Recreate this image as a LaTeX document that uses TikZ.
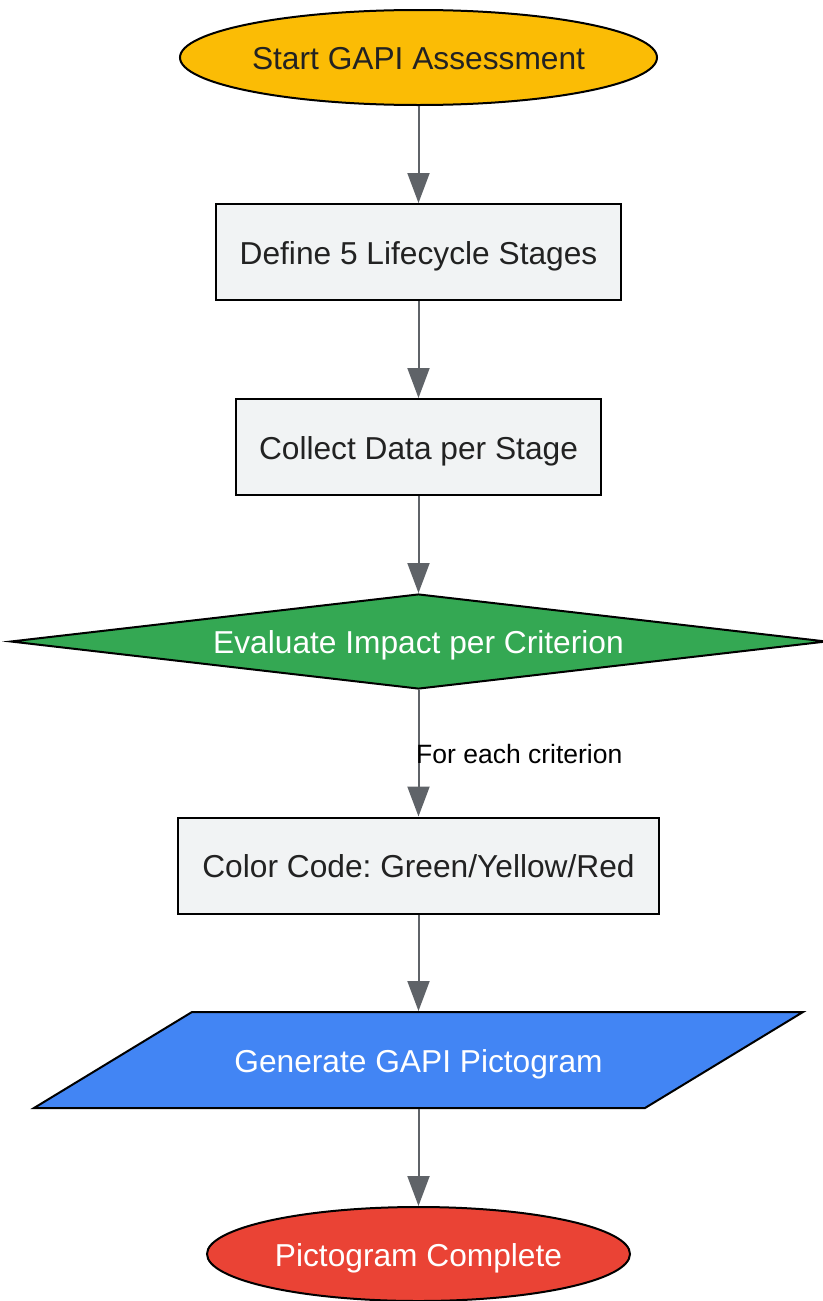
\documentclass[tikz,border=0pt]{standalone}
\usepackage{fontspec}
\setmainfont{Liberation Sans}
\frenchspacing
\usetikzlibrary{shapes.geometric,arrows.meta,calc}
\definecolor{gyellow}{HTML}{FBBC05}
\definecolor{ggreen}{HTML}{34A853}
\definecolor{gblue}{HTML}{4285F4}
\definecolor{gred}{HTML}{EA4335}
\definecolor{ggray}{HTML}{F1F3F4}
\definecolor{garrow}{HTML}{5F6368}
\definecolor{gtext}{HTML}{222222}
\tikzset{
  base/.style={draw=black, line width=2pt, inner sep=0pt, text height=24.7pt, text depth=0pt, font=\fontsize{31.7}{38}\selectfont},
  oval/.style={base, ellipse},
  procbox/.style={base, rectangle, fill=ggray, text=gtext, minimum height=96pt},
  decision/.style={base, diamond, aspect=8.5},
  conn/.style={draw=garrow, line width=2pt, -{Triangle[width=22pt,length=30pt]}},
  edgelabel/.style={font=\fontsize{26.5}{32}\selectfont, text=black, inner sep=0pt, anchor=west}
}
\begin{document}
\begin{tikzpicture}[x=1pt,y=-1pt]
\useasboundingbox (0,0) rectangle (822,1301);
\node[oval, fill=gyellow, text=gtext, minimum width=477pt, minimum height=95pt] (start) at (418.5,57.5) {Start GAPI Assessment};
\node[procbox, minimum width=405pt] (define) at (418.5,252) {Define 5 Lifecycle Stages};
\node[procbox, minimum width=365pt] (collect) at (418.5,447) {Collect Data per Stage};
\node[decision, fill=ggreen, text=white, minimum width=816pt, minimum height=95pt] (eval) at (418.5,641.5) {Evaluate Impact per Criterion};
\node[procbox, minimum width=481pt] (color) at (418.5,865.5) {Color Code: Green/Yellow/Red};
\node[base, draw=none, rectangle, minimum width=611pt, minimum height=96pt] (gen) at (418.5,1060) {};
\draw[line width=2pt, fill=gblue] ($(gen.center)+(-226.5,-48)$) -- ($(gen.center)+(384.5,-48)$) -- ($(gen.center)+(226.5,48)$) -- ($(gen.center)+(-384.5,48)$) -- cycle;
\node[base, draw=none, text=white] at (gen.center) {Generate GAPI Pictogram};
\node[oval, fill=gred, text=white, minimum width=423pt, minimum height=94pt] (done) at (418.5,1254) {Pictogram Complete};
\draw[conn] (start.south) -- (define.north);
\draw[conn] (define.south) -- (collect.north);
\draw[conn] (collect.south) -- (eval.north);
\draw[conn] (eval.south) -- (color.north);
\node[edgelabel] (lbl) at (416,754) {For each criterion};
\draw[conn] (color.south) -- (gen.north);
\draw[conn] (gen.south) -- (done.north);
\end{tikzpicture}
\end{document}
